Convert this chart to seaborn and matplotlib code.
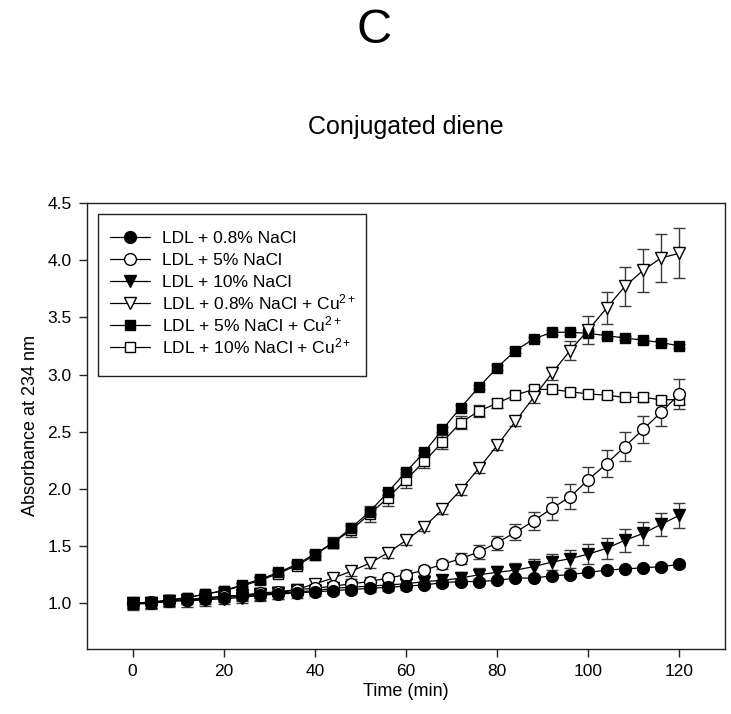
import matplotlib
matplotlib.use("Agg")
import matplotlib.pyplot as plt
from matplotlib.lines import Line2D
from matplotlib.patches import Rectangle
import seaborn as sns
import numpy as np
import pandas as pd

# ---------------- data ----------------
time_min = [0, 4, 8, 12, 16, 20, 24, 28, 32, 36, 40, 44, 48, 52, 56, 60,
            64, 68, 72, 76, 80, 84, 88, 92, 96, 100, 104, 108, 112, 116, 120]

nacl08 = [1.00, 1.01, 1.02, 1.03, 1.04, 1.05, 1.06, 1.07, 1.08, 1.09, 1.10, 1.11, 1.12, 1.13, 1.14, 1.15,
          1.16, 1.18, 1.19, 1.19, 1.20, 1.22, 1.22, 1.24, 1.25, 1.27, 1.29, 1.30, 1.31, 1.32, 1.34]
nacl08_err = [0.03, 0.02, 0.02, 0.02, 0.02, 0.02, 0.02, 0.02, 0.02, 0.02, 0.02, 0.02, 0.02, 0.02, 0.02, 0.02,
              0.02, 0.02, 0.02, 0.02, 0.02, 0.02, 0.02, 0.02, 0.02, 0.02, 0.02, 0.02, 0.02, 0.02, 0.02]

nacl5 = [1.00, 1.00, 1.02, 1.03, 1.05, 1.06, 1.07, 1.09, 1.10, 1.12, 1.13, 1.15, 1.17, 1.19, 1.22, 1.25,
         1.29, 1.34, 1.39, 1.45, 1.53, 1.62, 1.72, 1.83, 1.93, 2.08, 2.22, 2.37, 2.52, 2.67, 2.83]
nacl5_err = [0.04, 0.04, 0.04, 0.04, 0.04, 0.04, 0.04, 0.04, 0.04, 0.04, 0.04, 0.04, 0.04, 0.04, 0.04, 0.04,
             0.04, 0.04, 0.05, 0.06, 0.06, 0.07, 0.08, 0.10, 0.11, 0.11, 0.12, 0.13, 0.12, 0.12, 0.13]

nacl10 = [1.00, 1.00, 1.02, 1.03, 1.04, 1.06, 1.07, 1.08, 1.09, 1.10, 1.11, 1.13, 1.14, 1.15, 1.16, 1.17,
          1.19, 1.20, 1.22, 1.25, 1.27, 1.29, 1.32, 1.36, 1.39, 1.43, 1.48, 1.55, 1.61, 1.69, 1.77]
nacl10_err = [0.04, 0.04, 0.04, 0.04, 0.05, 0.05, 0.05, 0.05, 0.05, 0.05, 0.05, 0.05, 0.05, 0.05, 0.05, 0.05,
              0.05, 0.05, 0.05, 0.06, 0.06, 0.06, 0.07, 0.07, 0.08, 0.09, 0.09, 0.10, 0.10, 0.10, 0.11]

nacl08_cu = [1.00, 1.00, 1.02, 1.02, 1.03, 1.04, 1.05, 1.07, 1.09, 1.12, 1.17, 1.22, 1.28, 1.35, 1.44, 1.55,
             1.67, 1.82, 1.99, 2.18, 2.38, 2.59, 2.80, 3.01, 3.21, 3.39, 3.58, 3.77, 3.91, 4.02, 4.06]
nacl08_cu_err = [0.05, 0.05, 0.05, 0.05, 0.05, 0.05, 0.05, 0.05, 0.05, 0.05, 0.04, 0.04, 0.04, 0.04, 0.04, 0.04,
                 0.04, 0.04, 0.04, 0.04, 0.04, 0.04, 0.05, 0.06, 0.08, 0.12, 0.14, 0.17, 0.19, 0.21, 0.22]

nacl5_cu = [1.00, 1.01, 1.03, 1.05, 1.08, 1.11, 1.16, 1.21, 1.27, 1.34, 1.43, 1.53, 1.66, 1.80, 1.97, 2.15,
            2.32, 2.52, 2.71, 2.89, 3.06, 3.21, 3.31, 3.37, 3.37, 3.36, 3.34, 3.32, 3.30, 3.28, 3.25]
nacl5_cu_err = [0.02, 0.02, 0.02, 0.02, 0.02, 0.02, 0.02, 0.02, 0.02, 0.02, 0.02, 0.02, 0.02, 0.02, 0.02, 0.02,
                0.02, 0.02, 0.02, 0.02, 0.02, 0.02, 0.02, 0.02, 0.02, 0.02, 0.02, 0.02, 0.02, 0.02, 0.02]

nacl10_cu = [0.99, 1.00, 1.02, 1.05, 1.08, 1.11, 1.15, 1.20, 1.26, 1.33, 1.42, 1.53, 1.64, 1.78, 1.92, 2.08,
             2.24, 2.41, 2.58, 2.68, 2.75, 2.82, 2.87, 2.87, 2.85, 2.83, 2.82, 2.80, 2.80, 2.78, 2.78]
nacl10_cu_err = [0.05, 0.04, 0.03, 0.03, 0.03, 0.03, 0.03, 0.03, 0.03, 0.03, 0.04, 0.05, 0.06, 0.07, 0.07, 0.07,
                 0.06, 0.06, 0.06, 0.05, 0.04, 0.03, 0.03, 0.03, 0.03, 0.03, 0.03, 0.03, 0.04, 0.03, 0.04]

labels = ["LDL + 0.8% NaCl", "LDL + 5% NaCl", "LDL + 10% NaCl",
          "LDL + 0.8% NaCl + Cu$^{2+}$", "LDL + 5% NaCl + Cu$^{2+}$", "LDL + 10% NaCl + Cu$^{2+}$"]
x_ticks = [0, 20, 40, 60, 80, 100, 120]
y_ticks = [1.0, 1.5, 2.0, 2.5, 3.0, 3.5, 4.0, 4.5]

series = [nacl08, nacl5, nacl10, nacl08_cu, nacl5_cu, nacl10_cu]
errors = [nacl08_err, nacl5_err, nacl10_err, nacl08_cu_err, nacl5_cu_err, nacl10_cu_err]
markers = ["o", "o", "v", "v", "s", "s"]
faces = ["black", "white", "black", "white", "black", "white"]
msizes = [8.5, 8.5, 9.0, 9.0, 7.8, 7.8]

# ---------------- style ----------------
sns.set_style("ticks")
plt.rcParams["font.family"] = ["Liberation Sans", "DejaVu Sans"]
plt.rcParams["mathtext.fontset"] = "custom"
plt.rcParams["mathtext.rm"] = "Liberation Sans"
plt.rcParams["mathtext.it"] = "Liberation Sans:italic"
plt.rcParams["mathtext.bf"] = "Liberation Sans:bold"
for k in ["text.color", "axes.labelcolor", "xtick.color", "ytick.color", "axes.edgecolor"]:
    plt.rcParams[k] = "black"

W, H = 731, 714
fig = plt.figure(figsize=(W / 100, H / 100), dpi=100)
L, R, T, B = 87, 725, 203, 649
ax = fig.add_axes([L / W, (H - B) / H, (R - L) / W, (B - T) / H])

rows = []
for lab, vals in zip(labels, series):
    for t, v in zip(time_min, vals):
        rows.append({"time": t, "value": v, "series": lab})
df = pd.DataFrame(rows)

order_draw = [5, 4, 3, 2, 1, 0]
for i in order_draw:
    ax.errorbar(time_min, series[i], yerr=errors[i], fmt="none", ecolor="#3a3a3a",
                elinewidth=1.0, capsize=4, capthick=1.0, zorder=2)

for i in order_draw:
    sub = df[df["series"] == labels[i]]
    sns.lineplot(data=sub, x="time", y="value", ax=ax, color="black", linewidth=0.9,
                 marker=markers[i], markersize=msizes[i], markerfacecolor=faces[i],
                 markeredgecolor="black", markeredgewidth=1.0, legend=False,
                 estimator=None, sort=False, zorder=3 + (5 - i) * 0.1)

ax.set_xlim(-10, 130)
ax.set_ylim(0.6, 4.5)
ax.set_xticks(x_ticks)
ax.set_yticks(y_ticks)
ax.set_yticklabels([f"{v:.1f}" for v in y_ticks])
for s in ax.spines.values():
    s.set_visible(True)
    s.set_color("#222222")
    s.set_linewidth(1.0)
ax.tick_params(axis="both", direction="out", length=6, width=1.0, color="#222222",
               labelsize=12.5, pad=5, top=False, right=False)
ax.set_xlabel("Time (min)", fontsize=13, labelpad=3)
ax.set_ylabel("Absorbance at 234 nm", fontsize=13, labelpad=6)

# ---------------- legend (drawn box with evenly spaced rows) ----------------
def ax_xy(px, py):
    return ((px - L) / (R - L), (B - py) / (B - T))

x0, y0 = ax_xy(98, 376)
x1, y1 = ax_xy(366, 214)
ax.add_patch(Rectangle((x0, y0), x1 - x0, y1 - y0, transform=ax.transAxes,
                       facecolor="white", edgecolor="#222222", linewidth=1.0, zorder=10))
row_y = 237
for i, lab in enumerate(labels):
    lx0, ly = ax_xy(110, row_y)
    lx1, _ = ax_xy(150, row_y)
    mx, _ = ax_xy(130, row_y)
    ax.add_line(Line2D([lx0, lx1], [ly, ly], transform=ax.transAxes, color="black",
                       linewidth=0.9, zorder=11))
    ax.add_line(Line2D([mx], [ly], transform=ax.transAxes, linestyle="none",
                       marker=markers[i], markersize=msizes[i], markerfacecolor=faces[i],
                       markeredgecolor="black", markeredgewidth=1.0, zorder=12))
    tx, tb = ax_xy(162, row_y + 6.2)
    ax.text(tx, tb, lab, transform=ax.transAxes, fontsize=12.5, ha="left",
            va="baseline", zorder=12)
    row_y += 22

fig.text(374 / W, 1 - 43 / H, "C", fontsize=35, ha="center", va="baseline")
fig.text(406 / W, 1 - 134 / H, "Conjugated diene", fontsize=18, ha="center", va="baseline")

fig.savefig("out.png", dpi=100)
